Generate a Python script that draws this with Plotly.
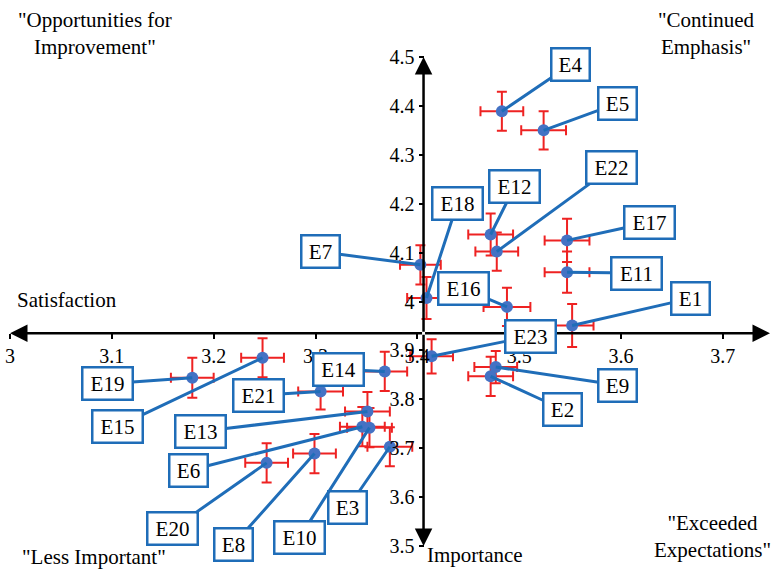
import plotly.graph_objects as go

# Item labels and their mean scores with error half-widths
items = ["E1", "E2", "E3", "E4", "E5", "E6", "E7", "E8", "E9", "E10", "E11", "E12",
         "E13", "E14", "E15", "E16", "E17", "E18", "E19", "E20", "E21", "E22", "E23"]
x_vals = [3.552, 3.472, 3.373, 3.483, 3.524, 3.346, 3.403, 3.299, 3.477, 3.353, 3.547, 3.472,
          3.351, 3.368, 3.248, 3.488, 3.547, 3.409, 3.179, 3.252, 3.305, 3.478, 3.414]
y_vals = [3.951, 3.847, 3.703, 4.389, 4.350, 3.744, 4.075, 3.689, 3.866, 3.742, 4.060, 4.137,
          3.775, 3.857, 3.885, 3.989, 4.125, 4.007, 3.844, 3.670, 3.816, 4.102, 3.888]
x_err = [0.021, 0.022, 0.022, 0.021, 0.022, 0.022, 0.020, 0.021, 0.021, 0.022, 0.022, 0.022,
         0.022, 0.022, 0.021, 0.023, 0.022, 0.019, 0.021, 0.021, 0.022, 0.021, 0.021]
y_err = [0.044, 0.040, 0.040, 0.040, 0.039, 0.040, 0.040, 0.040, 0.033, 0.040, 0.042, 0.043,
         0.040, 0.040, 0.040, 0.039, 0.044, 0.043, 0.041, 0.040, 0.037, 0.039, 0.035]

# Callout box offsets (pixels) from each point
label_dx = [118, 72, -42, 69, 74, -174, -100, -81, 122, -70, 69, 24,
            -167, -46, -145, -43, 82, 31, -85, -94, -62, 115, 99]
label_dy = [-27, 33, 61, -47, -27, 44, -13, 91, 18, 110, 1, -48,
            20, -2, 69, -18, -18, -95, 6, 66, 4, -84, -20]

x_ticks = [3.0, 3.1, 3.2, 3.3, 3.4, 3.5, 3.6, 3.7]
x_tick_text = ["3", "3.1", "3.2", "3.3", "3.4", "3.5", "3.6", "3.7"]
y_ticks = [3.5, 3.6, 3.7, 3.8, 3.9, 4.0, 4.1, 4.2, 4.3, 4.4, 4.5]
y_tick_text = ["3.5", "3.6", "3.7", "3.8", "3.9", "4", "4.1", "4.2", "4.3", "4.4", "4.5"]

x_range = [3.0, 3.7463]
y_range = [3.5, 4.5]

# Axes cross at the mean of each variable
x_cross = sum(x_vals) / len(x_vals)
y_cross = sum(y_vals) / len(y_vals)

FONT = "Liberation Serif"
BLUE = "#1F6DB8"
MARKER = "#4472C4"
ERR = "#EE2222"

fig = go.Figure()
fig.add_trace(go.Scatter(
    x=x_vals, y=y_vals, mode="markers",
    marker=dict(color=MARKER, size=12),
    error_x=dict(type="data", array=x_err, color=ERR, thickness=2, width=5),
    error_y=dict(type="data", array=y_err, color=ERR, thickness=2, width=5),
    showlegend=False, cliponaxis=False,
))

annotations = []

# Axis lines with arrowheads at both ends
axis_arrows = [
    (x_range[0], y_cross, x_cross, y_cross),
    (x_range[1], y_cross, x_cross, y_cross),
    (x_cross, y_range[1], x_cross, y_cross),
    (x_cross, y_range[0], x_cross, y_cross),
]
for hx, hy, tx, ty in axis_arrows:
    annotations.append(dict(
        x=hx, y=hy, ax=tx, ay=ty, xref="x", yref="y", axref="x", ayref="y",
        text="", showarrow=True, arrowhead=2, arrowsize=1.4, arrowwidth=2.5,
        arrowcolor="black", standoff=0,
    ))

# Data callouts
for name, xv, yv, dx, dy in zip(items, x_vals, y_vals, label_dx, label_dy):
    annotations.append(dict(
        x=xv, y=yv, xref="x", yref="y", ax=dx, ay=dy,
        text=name, showarrow=True, arrowhead=0, arrowwidth=3, arrowcolor=BLUE,
        bordercolor=BLUE, borderwidth=2.5, borderpad=2, bgcolor="white",
        width=32 if len(name) == 2 else 44, height=26,
        font=dict(family=FONT, size=21, color="black"),
    ))

# Axis titles and quadrant captions
texts = [
    ("Satisfaction", 0.0066, 0.5035, "left"),
    ("Importance", 0.546, -0.0176, "left"),
    ("\"Opportunities for<br>Improvement\"", 0.112, 1.049, "center"),
    ("\"Continued<br>Emphasis\"", 0.916, 1.049, "center"),
    ("\"Exceeded<br>Expectations\"", 0.924, 0.019, "center"),
    ("\"Less Important\"", 0.1105, -0.0217, "center"),
]
for t, xp, yp, anchor in texts:
    annotations.append(dict(
        x=xp, y=yp, xref="paper", yref="paper", text=t, showarrow=False,
        xanchor=anchor, yanchor="middle", align="center",
        font=dict(family=FONT, size=21, color="black"),
    ))

fig.update_layout(
    width=772, height=572,
    margin=dict(l=10, r=2, t=57, b=26),
    paper_bgcolor="white", plot_bgcolor="white",
    font=dict(family=FONT, color="black"),
    annotations=annotations,
    xaxis=dict(
        range=x_range, showgrid=False, zeroline=False, showline=False,
        anchor="free", position=(y_cross - y_range[0]) / (y_range[1] - y_range[0]),
        tickvals=x_ticks, ticktext=x_tick_text, ticks="outside", ticklen=5,
        tickwidth=2, tickcolor="black", automargin=False,
        tickfont=dict(family=FONT, size=20, color="black"),
    ),
    yaxis=dict(
        range=y_range, showgrid=False, zeroline=False, showline=False,
        anchor="free", position=(x_cross - x_range[0]) / (x_range[1] - x_range[0]),
        tickvals=y_ticks, ticktext=y_tick_text, ticks="outside", ticklen=5,
        tickwidth=2, tickcolor="black", automargin=False,
        tickfont=dict(family=FONT, size=20, color="black"),
    ),
)

fig.write_html("out.html")
